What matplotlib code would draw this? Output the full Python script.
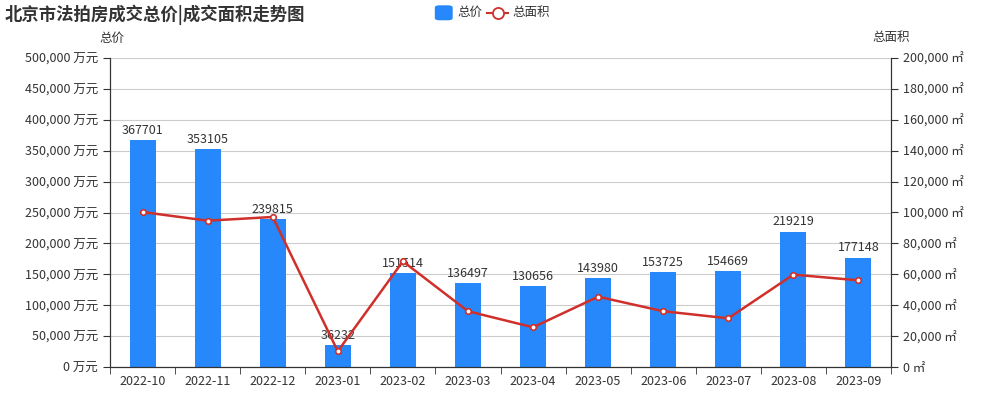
import matplotlib
matplotlib.use("Agg")
import matplotlib.pyplot as plt
from matplotlib.ticker import FuncFormatter, MultipleLocator, FixedLocator
from matplotlib.patches import FancyBboxPatch
from matplotlib.lines import Line2D
import numpy as np

plt.rcParams['font.family'] = ['Noto Sans CJK SC', 'DejaVu Sans']

months = ["2022-10", "2022-11", "2022-12", "2023-01", "2023-02", "2023-03",
          "2023-04", "2023-05", "2023-06", "2023-07", "2023-08", "2023-09"]
total_price = [367701, 353105, 239815, 36232, 151514, 136497,
               130656, 143980, 153725, 154669, 219219, 177148]
total_area = [100300, 94700, 97100, 10200, 68400, 36100,
              25700, 45500, 36100, 31500, 59800, 56100]

bar_color = "#2688fb"
line_color = "#d0302b"
text_color = "#333333"
axis_color = "#333333"
grid_color = "#cccccc"

fig = plt.figure(figsize=(10, 4), dpi=100)
ax = fig.add_axes([0.11, 0.0825, 0.781, 0.7725])
ax2 = ax.twinx()

x = np.arange(len(months))
ax.bar(x, total_price, width=0.4, color=bar_color, zorder=2)
for xi, v in zip(x, total_price):
    ax.text(xi, v + 5000, str(v), ha='center', va='bottom', fontsize=9, color=text_color)

ax2.plot(x, total_area, color=line_color, lw=1.8, marker='o', ms=4,
         markerfacecolor='white', markeredgecolor=line_color, markeredgewidth=1.2, zorder=3)

ax.set_xlim(-0.5, len(months) - 0.5)
ax.set_ylim(0, 500000)
ax2.set_ylim(0, 200000)
ax.yaxis.set_major_locator(MultipleLocator(50000))
ax2.yaxis.set_major_locator(MultipleLocator(20000))
ax.yaxis.set_major_formatter(FuncFormatter(lambda v, p: f"{int(v):,} 万元"))
ax2.yaxis.set_major_formatter(FuncFormatter(lambda v, p: f"{int(v):,} ㎡"))

ax.set_xticks(x)
ax.set_xticklabels(months)
ax.xaxis.set_minor_locator(FixedLocator(np.arange(-0.5, len(months), 1.0)))
ax.tick_params(axis='x', which='major', length=0, labelsize=9, labelcolor=text_color, pad=6)
ax.tick_params(axis='x', which='minor', length=5, color=axis_color)
ax.tick_params(axis='y', length=5, color=axis_color, labelsize=9, labelcolor=text_color)
ax2.tick_params(axis='y', length=5, color=axis_color, labelsize=9, labelcolor=text_color)

ax.grid(axis='y', color=grid_color, lw=0.8, zorder=0)
ax.set_axisbelow(True)

for a in (ax, ax2):
    a.spines['top'].set_visible(False)
    a.spines['left'].set_color(axis_color)
    a.spines['right'].set_color(axis_color)
    a.spines['bottom'].set_color(axis_color)

fig.text(0.005, 0.962, "北京市法拍房成交总价|成交面积走势图", fontsize=12.5, fontweight='bold',
         color=text_color, ha='left', va='center')
fig.text(0.112, 0.905, "总价", fontsize=9, color=text_color, ha='center', va='center')
fig.text(0.891, 0.905, "总面积", fontsize=9, color=text_color, ha='center', va='center')

# legend
leg_y = 0.968
fig.patches.append(FancyBboxPatch((0.4355, leg_y - 0.017), 0.0165, 0.034,
                                  boxstyle="round,pad=0,rounding_size=0.004",
                                  transform=fig.transFigure, color=bar_color))
fig.text(0.457, leg_y, "总价", fontsize=9, color=text_color, ha='left', va='center')
fig.lines.append(Line2D([0.487, 0.508], [leg_y, leg_y], transform=fig.transFigure,
                        color=line_color, lw=1.5))
fig.lines.append(Line2D([0.4975], [leg_y], transform=fig.transFigure, marker='o', ms=8,
                        markerfacecolor='white', markeredgecolor=line_color, markeredgewidth=1.3))
fig.text(0.512, leg_y, "总面积", fontsize=9, color=text_color, ha='left', va='center')

fig.savefig("out.png", dpi=100)
